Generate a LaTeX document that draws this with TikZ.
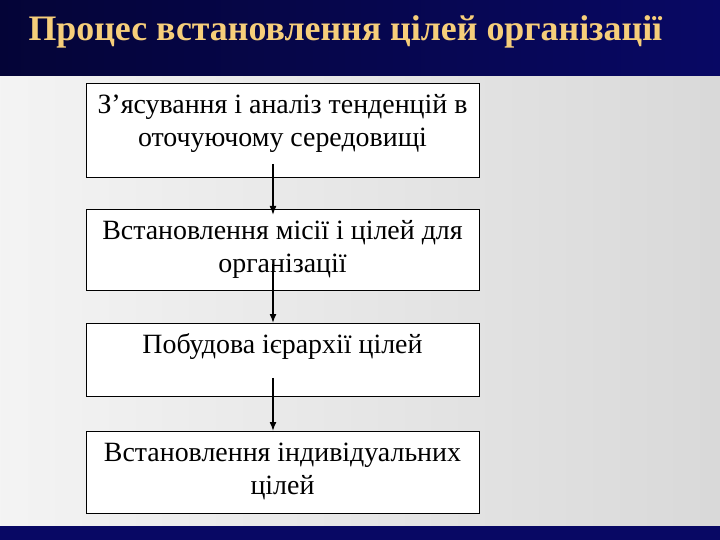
\documentclass[tikz,border=0pt]{standalone}
\usepackage{fontspec}
\setmainfont{Liberation Serif}
\usetikzlibrary{arrows.meta}
\definecolor{navy}{RGB}{8,8,100}
\definecolor{zoloto}{RGB}{246,206,122}
\newcommand\krok[2]{\parbox[c][#1][t]{380bp}{\centering\strut #2}}
\begin{document}
\begin{tikzpicture}[x=1bp,y=-1bp, cell/.style={draw,fill=white,line width=.8bp,inner xsep=6.5bp,inner ysep=7bp,font=\fontsize{28}{33}\selectfont}]
\useasboundingbox (0,0) rectangle (720,540);
\shade[left color=gray!9,right color=gray!30] (0,76) rectangle (720,526);
\shade[left color=navy!55!black,right color=navy] (0,0) rectangle (720,76);
\fill[navy] (0,526) rectangle (720,540);
\path (25,41) node[anchor=base west,text=zoloto,font=\fontsize{36}{40}\selectfont\bfseries] (T) {Процес встановлення цілей організації}
(282.5,83) node[cell,anchor=north] (A) {\krok{80bp}{З’ясування і аналіз тенденцій в\\оточуючому середовищі}}
(282.5,209) node[cell,anchor=north] (B) {\krok{67bp}{Встановлення місії і цілей для\\організації}}
(282.5,323) node[cell,anchor=north] (C) {\krok{59bp}{Побудова ієрархії цілей}}
(282.5,431) node[cell,anchor=north] (D) {\krok{68bp}{Встановлення індивідуальних\\цілей}};
\foreach \a/\b/\s/\e in {A/B/14/6, B/C/27/0, C/D/19/0} \draw[-{Latex[length=9bp,width=7bp]},line width=1.5bp] ([xshift=-9.5bp,yshift=\s bp]\a.south) -- ([xshift=-9.5bp,yshift=-\e bp]\b.north);
\end{tikzpicture}
\end{document}
